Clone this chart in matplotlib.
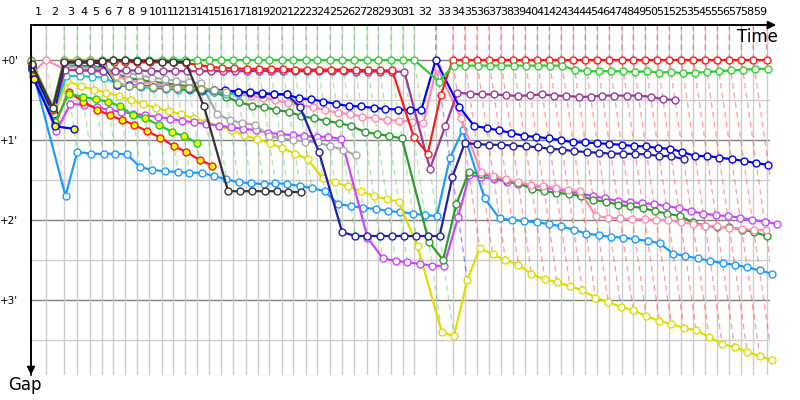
import matplotlib
matplotlib.use("Agg")
import matplotlib.pyplot as plt
import matplotlib.transforms as mtransforms

# leader's race time (minutes) at the end of each lap, lap 0 = start
leader_time = [0, 1.30, 2.87, 4.03, 5.13, 6.15, 7.16, 8.17, 9.19, 10.29, 11.37,
               12.37, 13.42, 14.46, 15.50, 16.52, 17.59, 18.67, 19.71, 20.72, 21.80,
               22.81, 23.89, 24.90, 26.00, 27.04, 28.11, 29.19, 30.20, 31.28, 32.32,
               33.33, 35.19, 36.67, 37.71, 38.76, 39.83, 40.84, 41.94, 42.98, 44.03,
               45.07, 46.11, 47.16, 48.20, 49.24, 50.29, 51.37, 52.37, 53.42, 54.46,
               55.50, 56.55, 57.59, 58.63, 59.68, 60.72, 61.77, 62.81, 63.97]

# gap to the leader (minutes) per lap, from lap 0
gap_sky = [0.12, 1.70, 1.15, 1.17, 1.175, 1.17, 1.18, 1.34, 1.375, 1.39, 1.40, 1.41, 1.41,
           1.45, 1.49, 1.53, 1.54, 1.55, 1.54, 1.55, 1.575, 1.60, 1.64, 1.80, 1.825, 1.85,
           1.86, 1.89, 1.90, 1.92, 1.94, 1.95, 1.23, 0.875, 1.73, 1.98, 2.00, 2.01, 2.03,
           2.05, 2.08, 2.12, 2.17, 2.19, 2.21, 2.22, 2.24, 2.26, 2.29, 2.42, 2.45, 2.48,
           2.51, 2.54, 2.56, 2.59, 2.63, 2.67]
gap_yellow = [0.10, 0.70, 0.26, 0.33, 0.37, 0.41, 0.45, 0.50, 0.55, 0.60, 0.64, 0.68, 0.73,
              0.77, 0.825, 0.875, 0.94, 0.99, 1.04, 1.10, 1.17, 1.24, 1.48, 1.53, 1.58, 1.64,
              1.70, 1.74, 1.77, 2.33, 3.40, 3.45, 2.75, 2.35, 2.43, 2.50, 2.56, 2.675, 2.74,
              2.78, 2.825, 2.88, 2.97, 3.02, 3.09, 3.13, 3.20, 3.26, 3.30, 3.35, 3.38, 3.46,
              3.55, 3.59, 3.65, 3.70, 3.75]
gap_violet = [0.14, 0.89, 0.55, 0.56, 0.59, 0.625, 0.645, 0.67, 0.69, 0.71, 0.735, 0.76,
              0.78, 0.80, 0.82, 0.84, 0.86, 0.875, 0.91, 0.925, 0.94, 0.95, 0.96, 0.96, 0.99,
              2.22, 2.48, 2.51, 2.53, 2.55, 2.57, 2.575, 1.96, 1.44, 1.46, 1.49, 1.52, 1.55,
              1.57, 1.59, 1.62, 1.64, 1.67, 1.70, 1.73, 1.76, 1.78, 1.79, 1.80, 1.825, 1.85,
              1.89, 1.92, 1.94, 1.95, 1.97, 2.00, 2.02, 2.05]
gap_dgreen = [0.12, 0.64, 0.07, 0.07, 0.08, 0.09, 0.17, 0.22, 0.25, 0.27, 0.29, 0.31, 0.33,
              0.36, 0.40, 0.46, 0.53, 0.57, 0.59, 0.625, 0.65, 0.70, 0.73, 0.76, 0.79, 0.825,
              0.90, 0.925, 0.95, 0.98, 2.27, 2.50, 1.80, 1.40, 1.42, 1.46, 1.50, 1.54, 1.61,
              1.64, 1.66, 1.675, 1.70, 1.75, 1.77, 1.81, 1.83, 1.85, 1.89, 1.92, 1.95, 2.03,
              2.07, 2.09, 2.09, 2.12, 2.15, 2.20]
gap_pink = [0.16, 0.0, 0.12, 0.13, 0.14, 0.15, 0.20, 0.25, 0.28, 0.30, 0.32, 0.34, 0.35,
            0.37, 0.39, 0.41, 0.43, 0.45, 0.47, 0.50, 0.54, 0.56, 0.59, 0.625, 0.66, 0.675,
            0.71, 0.73, 0.75, 0.76, 0.77, 0.79, 0.09, 0.73, 1.40, 1.45, 1.49, 1.53, 1.56,
            1.58, 1.60, 1.625, 1.64, 1.95, 1.97, 1.98, 1.99, 1.99, 2.00, 2.00, 2.03, 2.05,
            2.07, 2.08, 2.10, 2.11, 2.125, 2.125]
gap_gray = [0.08, 0.64, 0.08, 0.09, 0.10, 0.11, 0.13, 0.16, 0.19, 0.22, 0.24, 0.26, 0.28,
            0.29, 0.67, 0.75, 0.79, 0.81, 0.95, 0.98, 1.00, 1.02, 1.03, 1.075, 1.12, 1.19]
gap_cyan = [0.11, 0.66, 0.20, 0.20, 0.21, 0.22, 0.30, 0.33, 0.34, 0.35, 0.36, 0.37, 0.38,
            0.39, 0.40, 0.42, 0.43]
gap_olive = [0.01, 0.575, 0.0, 0.0, 0.0, 0.0, 0.30, 0.32, 0.33, 0.34, 0.345, 0.35, 0.355,
             0.36, 0.37, 0.40]
gap_purple = [0.06, 0.63, 0.12, 0.13, 0.13, 0.135, 0.14, 0.13, 0.13, 0.14, 0.14, 0.14, 0.14,
              0.14, 0.14, 0.14, 0.14, 0.14, 0.135, 0.14, 0.14, 0.14, 0.14, 0.14, 0.14, 0.14,
              0.145, 0.145, 0.145, 0.145, 0.146, 1.36, 0.83, 0.41, 0.42, 0.43, 0.43, 0.44,
              0.45, 0.44, 0.43, 0.445, 0.45, 0.46, 0.46, 0.445, 0.445, 0.445, 0.445, 0.46,
              0.49, 0.50]
gap_navy = [0.09, 0.68, 0.03, 0.03, 0.03, 0.03, 0.31, 0.32, 0.33, 0.34, 0.35, 0.355, 0.36,
            0.37, 0.375, 0.385, 0.40, 0.41, 0.42, 0.43, 0.43, 0.59, 1.15, 2.15, 2.20, 2.20,
            2.20, 2.20, 2.20, 2.20, 2.20, 2.20, 1.46, 1.04, 1.05, 1.06, 1.06, 1.07, 1.08,
            1.09, 1.11, 1.12, 1.14, 1.15, 1.16, 1.17, 1.17, 1.175, 1.18, 1.20, 1.20, 1.24]
gap_blue = [0.10, 0.67, 0.03, 0.03, 0.03, 0.04, 0.31, 0.315, 0.325, 0.335, 0.345, 0.35,
            0.355, 0.365, 0.37, 0.38, 0.395, 0.405, 0.415, 0.425, 0.43, 0.48, 0.49, 0.52,
            0.55, 0.575, 0.58, 0.60, 0.61, 0.62, 0.625, 0.62, 0.0, 0.59, 0.825, 0.85, 0.88,
            0.91, 0.95, 0.96, 0.98, 1.00, 1.03, 1.03, 1.04, 1.05, 1.06, 1.075, 1.08, 1.10,
            1.11, 1.15, 1.20, 1.20, 1.22, 1.24, 1.26, 1.29, 1.31]
gap_red_y = [0.20, 0.80, 0.40, 0.52, 0.62, 0.69, 0.75, 0.81, 0.89, 0.97, 1.08, 1.15, 1.25, 1.32]
gap_green_y = [0.22, 0.78, 0.42, 0.46, 0.49, 0.52, 0.575, 0.69, 0.73, 0.81, 0.90, 0.95, 1.04]
gap_blue_y = [0.24, 0.83, 0.86]
gap_red = [0.03, 0.62, 0.02, 0.02, 0.02, 0.02, 0.02, 0.02, 0.03, 0.03, 0.03, 0.03, 0.04,
           0.06, 0.085, 0.10, 0.105, 0.11, 0.11, 0.11, 0.11, 0.12, 0.12, 0.12, 0.12, 0.12,
           0.125, 0.125, 0.13, 0.13, 0.96, 1.17, 0.44, 0.0, 0.0, 0.0, 0.0, 0.0, 0.0, 0.0,
           0.0, 0.0, 0.0, 0.0, 0.0, 0.0, 0.0, 0.0, 0.0, 0.0, 0.0, 0.0, 0.0, 0.0, 0.0, 0.0,
           0.0, 0.0, 0.0, 0.0]
gap_green = [0.0, 0.60, 0.0, 0.0, 0.0, 0.0, 0.0, 0.0, 0.0, 0.0, 0.0, 0.0, 0.0, 0.0, 0.0,
             0.0, 0.0, 0.0, 0.0, 0.0, 0.0, 0.0, 0.0, 0.0, 0.0, 0.0, 0.0, 0.0, 0.0, 0.0, 0.0,
             0.0, 0.27, 0.07, 0.07, 0.07, 0.07, 0.07, 0.07, 0.07, 0.07, 0.07, 0.07, 0.125,
             0.14, 0.14, 0.14, 0.14, 0.15, 0.14, 0.16, 0.15, 0.167, 0.16, 0.15, 0.14, 0.13,
             0.125, 0.11, 0.11]
gap_black = [0.05, 0.60, 0.02, 0.02, 0.02, 0.01, 0.0, 0.0, 0.01, 0.01, 0.02, 0.02, 0.03,
             0.58, 1.64, 1.64, 1.64, 1.64, 1.64, 1.65, 1.65]

# (gaps, line colour, marker fill) in drawing order
drivers = [
    (gap_sky, "#1e9bff", "white"),
    (gap_yellow, "#dede00", "white"),
    (gap_violet, "#cc44ff", "white"),
    (gap_dgreen, "#2e9b2e", "white"),
    (gap_pink, "#ff8cb0", "white"),
    (gap_gray, "#a8a8a8", "white"),
    (gap_cyan, "#22c4cc", "white"),
    (gap_purple, "#9a3a9a", "white"),
    (gap_navy, "#1f1fa8", "white"),
    (gap_blue, "#0000ff", "white"),
    (gap_red_y, "#ff1a1a", "#ffff00"),
    (gap_green_y, "#22cc22", "#ffff00"),
    (gap_blue_y, "#0000ff", "#ffff00"),
    (gap_red, "#ff1a1a", "white"),
    (gap_green, "#33cc33", "white"),
    (gap_olive, "#a4b45a", "white"),
    (gap_black, "#333333", "white"),
]

y_top, y_bottom = -0.4375, 3.9375
x_right = 64.26

fig = plt.figure(figsize=(8, 4), dpi=100)
ax = fig.add_axes([31 / 800, 25 / 400, 739 / 800, 350 / 400])
ax.set_xlim(0, x_right)
ax.set_ylim(y_bottom, y_top)

# grid
for y in [0.5, 1.5, 2.5, 3.5]:
    ax.axhline(y, color="#cccccc", lw=1, zorder=0)
for y in [0, 1, 2, 3]:
    ax.axhline(y, color="#808080", lw=1, zorder=0)
ax.vlines(leader_time[1:], y_top, y_bottom, color="#cccccc", lw=1, zorder=0)

# dashed lines joining the same lap for every car, in the leader's colour
for lap in range(1, len(leader_time)):
    pts = []
    for gaps, col, face in drivers:
        if lap < len(gaps):
            pts.append((gaps[lap], col))
    pts.sort(key=lambda p: p[0])
    lead_col = pts[0][1]
    for g, col in pts:
        if g == pts[0][0] and col == "#33cc33":
            lead_col = col
    xs = [leader_time[lap]] + [leader_time[lap] + g for g, c in pts]
    ys = [y_top] + [g for g, c in pts]
    ax.plot(xs, ys, ls=(0, (4, 3)), color=lead_col, alpha=0.4, lw=1, zorder=1)

# cars
for gaps, col, face in drivers:
    xs = [leader_time[i] + g for i, g in enumerate(gaps)]
    ax.plot(xs, gaps, "-o", color=col, lw=1.6, ms=5, mfc=face, mec=col, mew=1,
            zorder=3, clip_on=False)

# axes look
for s in ["right", "bottom"]:
    ax.spines[s].set_visible(False)
ax.spines["left"].set_linewidth(1.2)
ax.spines["top"].set_linewidth(1.2)
ax.annotate("", xy=(1.012, 1), xytext=(0, 1), xycoords="axes fraction",
            arrowprops=dict(arrowstyle="-|>", color="black", lw=1.2,
                            mutation_scale=12), annotation_clip=False)
ax.annotate("", xy=(0, -0.008), xytext=(0, 1), xycoords="axes fraction",
            arrowprops=dict(arrowstyle="-|>", color="black", lw=1.2,
                            mutation_scale=12), annotation_clip=False)

ax.set_xticks([])
ax.set_yticks([0, 1, 2, 3])
ax.set_yticklabels(["+0'", "+1'", "+2'", "+3'"], fontsize=7.5)
ax.tick_params(axis="y", length=0, pad=9)

# lap numbers on top, centred in each lap
trans = mtransforms.blended_transform_factory(ax.transData, ax.transAxes)
for lap in range(1, len(leader_time)):
    xm = (leader_time[lap - 1] + leader_time[lap]) / 2
    ax.text(xm, 1.024, str(lap), transform=trans, ha="center", va="bottom",
            fontsize=8)

fig.text(778 / 800, 1 - 28 / 400, "Time", ha="right", va="top", fontsize=12)
fig.text(25 / 800, 1 - 385 / 400, "Gap", ha="center", va="center", fontsize=12)

fig.savefig("out.png", dpi=100)
